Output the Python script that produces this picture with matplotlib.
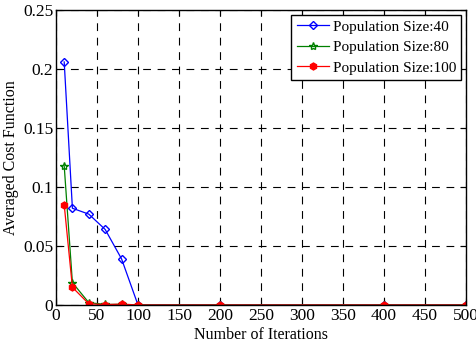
import numpy as np
import matplotlib.pyplot as plt

plt.rcParams['font.family'] = ['Liberation Serif', 'DejaVu Serif']

# datos
iters = [10, 20, 40, 60, 80, 100, 200, 400, 500]
pop40 = [0.206, 0.082, 0.077, 0.064, 0.039, 0.0, 0.0, 0.0, 0.0]
pop80 = [0.118, 0.019, 0.002, 0.0005, 0.0005, 0.0, 0.0, 0.0, 0.0]
pop100 = [0.085, 0.015, 0.001, 0.0003, 0.0008, 0.0, 0.0, 0.0, 0.0]

fig = plt.figure(figsize=(4.76, 3.44), dpi=100)
ax = fig.add_axes([56/476, 1 - 305/344, 410/476, 295/344])

ax.plot(iters, pop40, 'b-', marker='D', mfc='none', ms=4.5, mew=1, lw=0.9, label='Population Size:40')
ax.plot(iters, pop80, 'g-', marker='*', mfc='none', ms=6, mew=1, lw=0.9, label='Population Size:80')
ax.plot(iters, pop100, 'r-', marker='h', mfc='r', ms=5, mew=1, lw=0.9, label='Population Size:100')

ax.set_xlim(0, 500)
ax.set_ylim(0, 0.25)
ax.set_xticks(np.arange(0, 501, 50))
ax.set_yticks([0, 0.05, 0.1, 0.15, 0.2, 0.25])
ax.set_yticklabels(['0', '0.05', '0.1', '0.15', '0.2', '0.25'])
ax.grid(True, color='k', linestyle=(0, (7, 6)), linewidth=0.8)
ax.tick_params(direction='in', labelsize=12.5, length=4, top=True, right=True, pad=2)
for s in ax.spines.values():
    s.set_linewidth(1)

ax.set_xlabel('Number of Iterations', fontsize=11.5, labelpad=2)
ax.set_ylabel('Averaged Cost Function', fontsize=11.5, labelpad=3)

leg = ax.legend(loc='upper right', fontsize=11, fancybox=False, framealpha=1,
                edgecolor='k', borderpad=0.35, labelspacing=0.45, handlelength=2.1,
                handletextpad=0.25, borderaxespad=0.3)
leg.get_frame().set_linewidth(1)

fig.savefig('out.png', dpi=100)
